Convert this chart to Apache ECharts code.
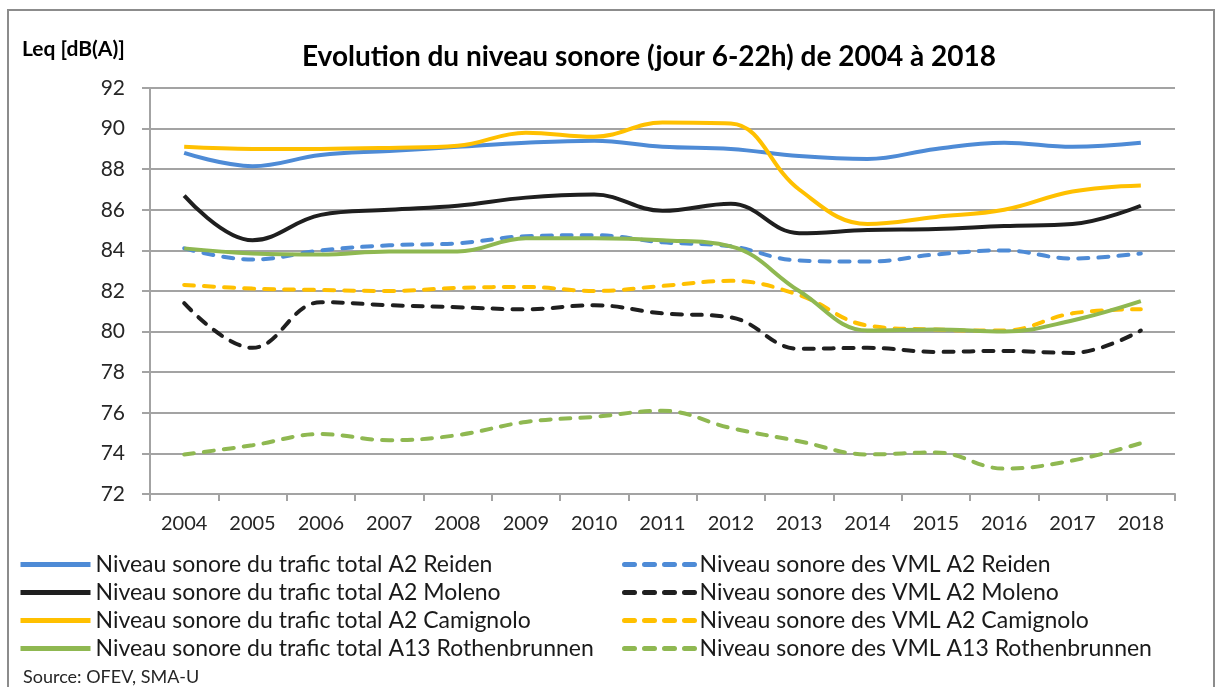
<!DOCTYPE html>
<html>
<head>
<meta charset="utf-8">
<script src="https://cdn.jsdelivr.net/npm/echarts@6/dist/echarts.min.js"></script>
<style>
  html, body { margin: 0; padding: 0; background: #fff; }
  #chart { width: 1216px; height: 687px; }
</style>
</head>
<body>
<div id="chart"></div>
<script>
var years = ['2004','2005','2006','2007','2008','2009','2010','2011','2012','2013','2014','2015','2016','2017','2018'];

// trafic total
var reidenTotal    = [88.8, 88.15, 88.7, 88.9, 89.1, 89.3, 89.4, 89.1, 89.0, 88.65, 88.5, 89.0, 89.3, 89.1, 89.3];
var molenoTotal    = [86.7, 84.5, 85.75, 86.0, 86.2, 86.6, 86.75, 85.95, 86.3, 84.85, 85.0, 85.05, 85.2, 85.3, 86.2];
var camignoloTotal = [89.1, 89.0, 89.0, 89.05, 89.15, 89.8, 89.6, 90.3, 90.25, 87.0, 85.3, 85.65, 86.0, 86.9, 87.2];
var rothenTotal    = [84.1, 83.85, 83.8, 83.95, 83.95, 84.6, 84.6, 84.5, 84.2, 82.0, 80.05, 80.1, 80.0, 80.55, 81.5];

// VML
var reidenVml    = [84.1, 83.55, 84.0, 84.25, 84.35, 84.7, 84.75, 84.4, 84.2, 83.5, 83.45, 83.8, 84.0, 83.6, 83.85];
var molenoVml    = [81.4, 79.2, 81.45, 81.3, 81.2, 81.1, 81.3, 80.9, 80.7, 79.15, 79.2, 79.0, 79.05, 78.95, 80.05];
var camignoloVml = [82.3, 82.12, 82.05, 82.0, 82.15, 82.2, 82.0, 82.25, 82.5, 81.8, 80.3, 80.1, 80.05, 80.9, 81.1];
var rothenVml    = [73.95, 74.4, 74.95, 74.65, 74.9, 75.55, 75.8, 76.1, 75.25, 74.6, 73.95, 74.05, 73.25, 73.65, 74.5];

var yTicks = { min: 72, max: 92, interval: 2 };

var namesTotal = [
  'Niveau sonore du trafic total A2 Reiden',
  'Niveau sonore du trafic total A2 Moleno',
  'Niveau sonore du trafic total A2 Camignolo',
  'Niveau sonore du trafic total A13 Rothenbrunnen'
];
var namesVml = [
  'Niveau sonore des VML A2 Reiden',
  'Niveau sonore des VML A2 Moleno',
  'Niveau sonore des VML A2 Camignolo',
  'Niveau sonore des VML A13 Rothenbrunnen'
];
var colors = ['#4e8bd6', '#1f1f1f', '#ffc000', '#8fb851'];

var font = 'Lato, "Liberation Sans", sans-serif';
var gridColor = '#a3a3a3';

function lineSeries(name, data, color, dashed) {
  return {
    name: name,
    type: 'line',
    data: data,
    smooth: 0.4,
    symbol: 'none',
    lineStyle: {
      color: color,
      width: 4,
      type: dashed ? [10, 10] : 'solid',
      cap: dashed ? 'round' : 'butt'
    },
    itemStyle: { color: color }
  };
}

function legendBlock(left, names) {
  return {
    orient: 'vertical',
    left: left,
    top: 548,
    itemWidth: 70,
    itemHeight: 20,
    itemGap: 5,
    itemStyle: { opacity: 0 },
    lineStyle: { width: 5 },
    textStyle: { fontFamily: font, fontSize: 23, color: '#1a1a1a', lineHeight: 20 },
    data: names
  };
}

var myChart = echarts.init(document.getElementById('chart'), null, { renderer: 'canvas' });

var option = {
  backgroundColor: '#ffffff',
  animation: false,
  title: [
    {
      text: 'Evolution du niveau sonore (jour 6-22h) de 2004 à 2018',
      left: 297,
      top: 38,
      textStyle: { fontFamily: font, fontSize: 28, fontWeight: 'bold', color: '#000' }
    },
    {
      text: 'Leq [dB(A)]',
      left: 17,
      top: 34,
      textStyle: { fontFamily: font, fontSize: 21, fontWeight: 'bold', color: '#000' }
    },
    {
      text: 'Source: OFEV, SMA-U',
      left: 18,
      top: 663,
      textStyle: { fontFamily: font, fontSize: 18, fontWeight: 'normal', color: '#262626' }
    }
  ],
  graphic: [
    {
      type: 'rect',
      shape: { x: 8, y: 10, width: 1206, height: 720 },
      style: { fill: null, stroke: '#8c8c8c', lineWidth: 2 },
      silent: true
    }
  ],
  legend: [
    legendBlock(13, namesTotal),
    legendBlock(617, namesVml)
  ],
  grid: {
    left: 150,
    right: 41,
    top: 88,
    bottom: 193,
    containLabel: false
  },
  xAxis: {
    type: 'category',
    boundaryGap: true,
    data: years,
    axisLine: { show: true, lineStyle: { color: gridColor, width: 2 } },
    axisTick: { show: true, length: 7, interval: 0, lineStyle: { color: gridColor, width: 2 } },
    axisLabel: { interval: 0, margin: 20, fontFamily: font, fontSize: 20, color: '#262626' },
    splitLine: { show: false }
  },
  yAxis: {
    type: 'value',
    min: yTicks.min,
    max: yTicks.max,
    interval: yTicks.interval,
    axisLine: { show: true, lineStyle: { color: gridColor, width: 2 } },
    axisTick: { show: true, length: 8, inside: false, lineStyle: { color: gridColor, width: 2 } },
    axisLabel: { margin: 25, fontFamily: font, fontSize: 21, color: '#262626' },
    splitLine: { show: true, lineStyle: { color: gridColor, width: 2 } }
  },
  series: [
    lineSeries(namesVml[0], reidenVml, colors[0], true),
    lineSeries(namesVml[1], molenoVml, colors[1], true),
    lineSeries(namesVml[2], camignoloVml, colors[2], true),
    lineSeries(namesVml[3], rothenVml, colors[3], true),
    lineSeries(namesTotal[0], reidenTotal, colors[0], false),
    lineSeries(namesTotal[1], molenoTotal, colors[1], false),
    lineSeries(namesTotal[2], camignoloTotal, colors[2], false),
    lineSeries(namesTotal[3], rothenTotal, colors[3], false)
  ]
};

myChart.setOption(option);
</script>
</body>
</html>
